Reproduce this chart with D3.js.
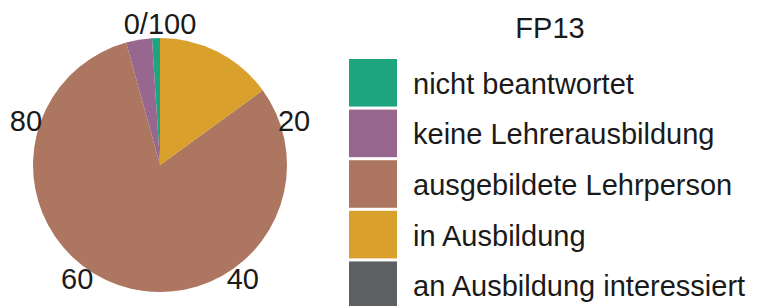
<!DOCTYPE html>
<html>
<head>
<meta charset="utf-8">
<script src="https://cdn.jsdelivr.net/npm/d3@7"></script>
<style>
    body { margin: 0; background: #fff; }
    text { font-family: "Liberation Sans", Arial, sans-serif; fill: #1a1a1a; }
</style>
</head>
<body>
<div id="chart"></div>
<script>
// Data (percent), in legend order
const categories = ["nicht beantwortet", "keine Lehrerausbildung", "ausgebildete Lehrperson", "in Ausbildung", "an Ausbildung interessiert"];
const values = [1.0, 3.3, 80.7, 15.0, 0];
const colors = ["#1ea57f", "#98678f", "#ad7660", "#d9a02b", "#5d5f63"];
const tickLabels = ["0/100", "20", "40", "60", "80"];
const tickValues = [0, 20, 40, 60, 80];
const title = "FP13";

const width = 757;
const height = 306;
const cx = 160, cy = 165;
const radius = 127;

const svg = d3.select("#chart")
    .append("svg")
    .attr("width", width)
    .attr("height", height);

const g = svg.append("g")
    .attr("transform", `translate(${cx},${cy})`);

const data = categories.map((c, i) => ({ name: c, value: values[i], color: colors[i] }));

// slices run counter-clockwise from the top in legend order
const pie = d3.pie()
    .value(d => d.value)
    .sort(null)
    .startAngle(0)
    .endAngle(-2 * Math.PI);

const arc = d3.arc()
    .innerRadius(0)
    .outerRadius(radius);

g.selectAll("path.slice")
    .data(pie(data))
    .enter()
    .append("path")
    .attr("class", "slice")
    .attr("d", arc)
    .attr("fill", d => d.data.color);

// percent scale around the circle (clockwise)
const angle = d3.scaleLinear().domain([0, 100]).range([0, 2 * Math.PI]);
const labelR = 141;

g.selectAll("text.tick")
    .data(tickValues)
    .enter()
    .append("text")
    .attr("class", "tick")
    .attr("x", d => labelR * Math.sin(angle(d)))
    .attr("y", d => -labelR * Math.cos(angle(d)))
    .attr("text-anchor", "middle")
    .attr("dominant-baseline", "central")
    .style("font-size", "29px")
    .text((d, i) => tickLabels[i]);

// Legend
const legend = svg.append("g").attr("transform", "translate(349,0)");

legend.append("text")
    .attr("x", 201)
    .attr("y", 38)
    .attr("text-anchor", "middle")
    .style("font-size", "29px")
    .text(title);

const y = d3.scaleBand()
    .domain(categories)
    .range([59, 59 + 50 * categories.length])
    .paddingInner(0.06);

const items = legend.selectAll("g.item")
    .data(data)
    .enter()
    .append("g")
    .attr("class", "item")
    .attr("transform", d => `translate(0,${y(d.name)})`);

items.append("rect")
    .attr("width", 48)
    .attr("height", y.bandwidth())
    .attr("fill", d => d.color);

items.append("text")
    .attr("x", 64)
    .attr("y", y.bandwidth() / 2 + 1)
    .attr("dominant-baseline", "central")
    .style("font-size", "29px")
    .text(d => d.name);
</script>
</body>
</html>
